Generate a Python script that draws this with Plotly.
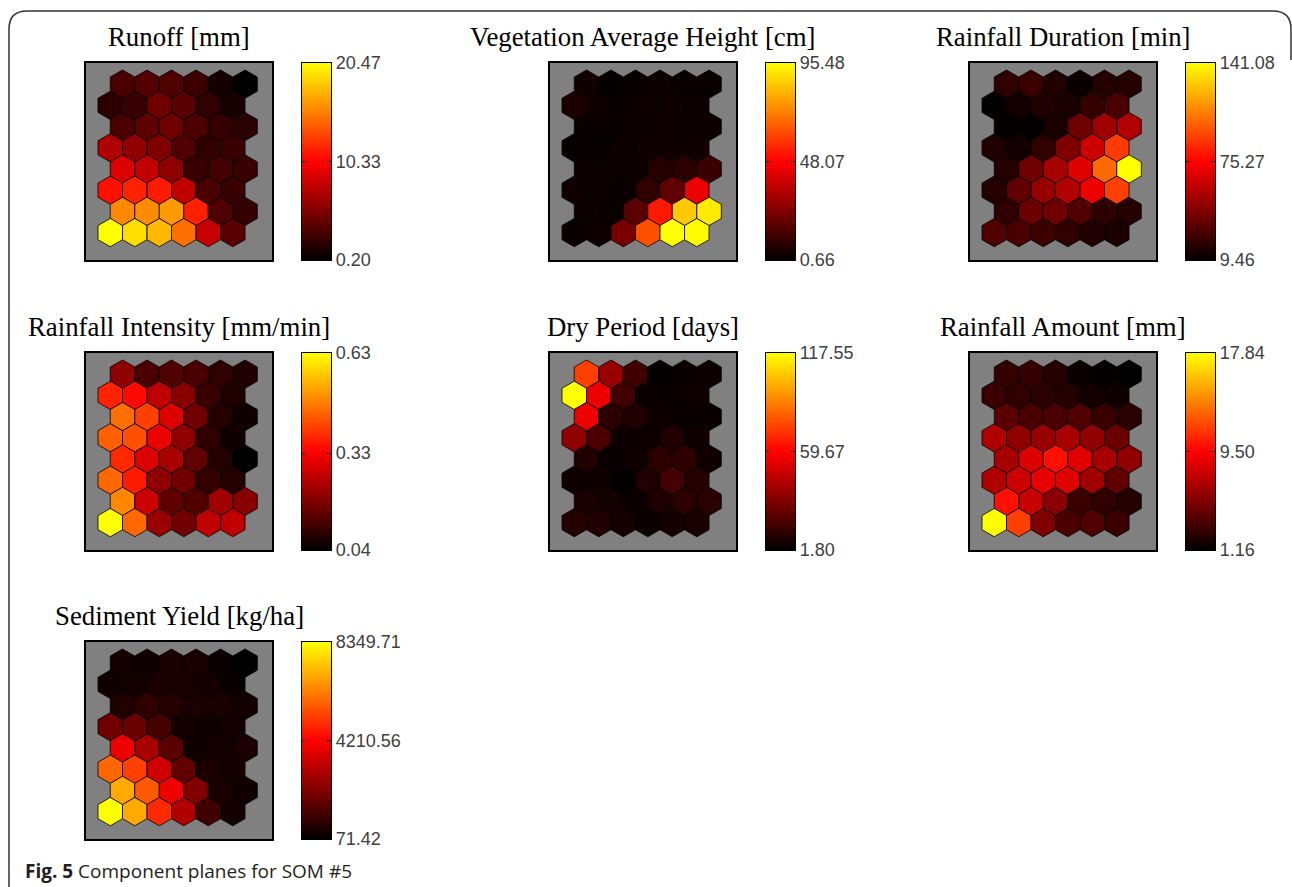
import numpy as np
import plotly.graph_objects as go
from plotly.colors import sample_colorscale

# ---------------- data ----------------
titles = ["Runoff [mm]", "Vegetation Average Height [cm]", "Rainfall Duration [min]",
          "Rainfall Intensity [mm/min]", "Dry Period [days]", "Rainfall Amount [mm]",
          "Sediment Yield [kg/ha]"]
cbar_min = [0.20, 0.66, 9.46, 0.04, 1.80, 1.16, 71.42]
cbar_mid = [10.33, 48.07, 75.27, 0.33, 59.67, 9.50, 4210.56]
cbar_max = [20.47, 95.48, 141.08, 0.63, 117.55, 17.84, 8349.71]

# 8 rows (top -> bottom) x 6 columns (left -> right); even rows are shifted right
runoff = [
    [3.14, 3.58, 3.38, 2.59, 1.00, 0.20],
    [1.95, 2.43, 4.58, 3.77, 2.11, 1.21],
    [3.14, 3.97, 4.66, 3.22, 2.35, 1.87],
    [7.20, 5.92, 5.27, 3.38, 2.11, 2.51],
    [8.98, 7.90, 5.88, 2.43, 2.83, 2.43],
    [10.94, 11.69, 11.35, 7.82, 3.14, 2.43],
    [15.75, 15.91, 16.42, 11.61, 3.34, 2.27],
    [20.47, 19.11, 17.63, 14.79, 8.10, 3.77],
]
veg_height = [
    [4.0, 1.6, 2.6, 2.9, 2.6, 2.6],
    [5.9, 3.5, 2.6, 3.5, 3.8, 3.0],
    [2.6, 2.5, 3.5, 3.5, 2.9, 2.9],
    [2.0, 2.0, 2.9, 3.8, 3.8, 4.0],
    [2.9, 2.9, 3.5, 7.6, 8.4, 11.5],
    [3.8, 2.9, 2.6, 9.6, 18.5, 44.9],
    [3.5, 2.6, 17.3, 52.8, 85.2, 91.7],
    [2.6, 3.5, 23.0, 63.0, 95.48, 94.5],
]
rain_duration = [
    [21.6, 24.5, 17.7, 12.1, 19.1, 19.1],
    [10.8, 14.9, 17.7, 16.2, 23.2, 28.6],
    [10.8, 10.8, 16.2, 37.9, 50.8, 54.9],
    [17.7, 14.9, 21.8, 42.4, 62.1, 90.3],
    [19.1, 38.4, 52.9, 67.4, 102.6, 141.08],
    [19.1, 34.2, 48.7, 54.9, 70.9, 91.7],
    [21.8, 36.8, 38.4, 30.1, 21.6, 19.1],
    [30.1, 28.6, 25.2, 21.8, 17.7, 16.2],
]
rain_intensity = [
    [0.206, 0.126, 0.133, 0.126, 0.095, 0.077],
    [0.375, 0.347, 0.262, 0.199, 0.107, 0.075],
    [0.465, 0.409, 0.296, 0.170, 0.083, 0.058],
    [0.446, 0.428, 0.315, 0.206, 0.095, 0.058],
    [0.383, 0.296, 0.235, 0.151, 0.083, 0.040],
    [0.455, 0.365, 0.206, 0.170, 0.101, 0.083],
    [0.492, 0.276, 0.151, 0.133, 0.225, 0.199],
    [0.630, 0.458, 0.217, 0.170, 0.262, 0.262],
]
dry_period = [
    [74.1, 36.5, 16.3, 3.0, 4.1, 5.3],
    [117.55, 55.9, 16.3, 4.1, 4.1, 5.3],
    [55.9, 11.3, 9.1, 5.4, 4.1, 4.1],
    [34.4, 18.6, 5.3, 5.3, 9.1, 5.4],
    [9.1, 4.1, 5.4, 11.3, 12.5, 5.4],
    [5.3, 5.4, 3.0, 9.1, 17.4, 10.3],
    [7.7, 6.5, 4.1, 8.8, 11.3, 11.3],
    [10.3, 9.1, 6.5, 4.1, 6.5, 7.7],
]
rain_amount = [
    [2.90, 2.90, 2.40, 1.50, 1.30, 1.16],
    [3.06, 2.73, 2.53, 2.38, 1.84, 1.68],
    [4.10, 3.58, 3.58, 3.78, 3.06, 2.53],
    [6.91, 5.86, 6.16, 6.66, 5.86, 4.63],
    [6.66, 8.38, 10.00, 8.50, 6.66, 5.86],
    [6.91, 7.83, 8.75, 8.50, 6.40, 4.30],
    [10.00, 7.70, 5.66, 3.06, 2.73, 2.38],
    [17.84, 11.60, 5.33, 3.58, 3.78, 3.06],
]
sediment_yield = [
    [411, 328, 494, 494, 237, 71.42],
    [328, 411, 494, 494, 411, 237],
    [593, 850, 676, 494, 494, 411],
    [1893, 1793, 1189, 411, 328, 411],
    [3937, 2803, 1528, 328, 411, 494],
    [5899, 5245, 3449, 1628, 494, 411],
    [6967, 5667, 3937, 2141, 494, 328],
    [8349.71, 6967, 4889, 2927, 1106, 411],
]
planes = [runoff, veg_height, rain_duration, rain_intensity, dry_period, rain_amount, sediment_yield]

caption_bold = "Fig. 5"
caption_text = " Component planes for SOM #5"

# ---------------- layout helpers ----------------
W, H = 1292, 887
HOT = [[0.0, "rgb(0,0,0)"], [0.5, "rgb(255,0,0)"], [1.0, "rgb(255,255,0)"]]
box_left = [86, 550, 970]
box_top = [63, 353, 642]
BOX_W, BOX_H = 186, 197
CB_OFF, CB_W = 216, 29
XR = [-0.99, 6.60]
YR = [7.18, -0.863]
R = 1 / np.sqrt(3)

def fx(px):
    return px / W

def fy(py):
    return 1 - py / H

fig = go.Figure()
layout_axes = {}
annotations = []
ang = np.deg2rad(90 + 60 * np.arange(7))
hx, hy = R * np.cos(ang), R * np.sin(ang)

for k, (title, vals) in enumerate(zip(titles, planes)):
    rr, cc = divmod(k, 3)
    L, T = box_left[cc], box_top[rr]
    ia = 2 * k + 1
    ib = 2 * k + 2
    xa = "x" if ia == 1 else f"x{ia}"
    ya = "y" if ia == 1 else f"y{ia}"
    xb, yb = f"x{ib}", f"y{ib}"
    vmin, vmax = cbar_min[k], cbar_max[k]
    arr = np.array(vals, dtype=float)
    for r in range(arr.shape[0]):
        for c in range(arr.shape[1]):
            cx = c + (0.5 if r % 2 == 0 else 0.0)
            cy = r * np.sqrt(3) / 2
            t = float(np.clip((arr[r, c] - vmin) / (vmax - vmin), 0, 1))
            col = sample_colorscale(HOT, [t])[0]
            fig.add_trace(go.Scatter(x=cx + hx, y=cy + hy, xaxis=xa, yaxis=ya,
                                     mode="lines", fill="toself", fillcolor=col,
                                     line=dict(color="black", width=0.8),
                                     hoverinfo="skip", showlegend=False))
    # colour bar as a heatmap strip
    zs = np.linspace(vmin, vmax, 256)
    fig.add_trace(go.Heatmap(z=zs.reshape(-1, 1), x=[0], y=zs, xaxis=xb, yaxis=yb,
                             colorscale=HOT, zmin=vmin, zmax=vmax, showscale=False,
                             hoverinfo="skip"))
    sfx_a = "" if ia == 1 else str(ia)
    layout_axes[f"xaxis{sfx_a}"] = dict(domain=[fx(L), fx(L + BOX_W)], range=XR, anchor=ya,
                                       showgrid=False, zeroline=False, showticklabels=False,
                                       showline=True, mirror=True, linecolor="black", linewidth=1.5)
    layout_axes[f"yaxis{sfx_a}"] = dict(domain=[fy(T + BOX_H), fy(T)], range=YR, anchor=xa,
                                       showgrid=False, zeroline=False, showticklabels=False,
                                       showline=True, mirror=True, linecolor="black", linewidth=1.5)
    layout_axes[f"xaxis{ib}"] = dict(domain=[fx(L + CB_OFF), fx(L + CB_OFF + CB_W)], range=[-0.5, 0.5],
                                     anchor=yb, showgrid=False, zeroline=False, showticklabels=False,
                                     showline=True, mirror=True, linecolor="black", linewidth=1.2)
    layout_axes[f"yaxis{ib}"] = dict(domain=[fy(T + BOX_H), fy(T)], range=[vmin, vmax], anchor=xb,
                                     side="right", showgrid=False, zeroline=False,
                                     tickvals=[vmin, cbar_mid[k], vmax],
                                     ticktext=[f"{vmin:.2f}", f"{cbar_mid[k]:.2f}", f"{vmax:.2f}"],
                                     ticks="inside", ticklen=4, tickcolor="black",
                                     tickfont=dict(family="Liberation Sans", size=18, color="#404040"),
                                     showline=True, mirror="ticks", linecolor="black", linewidth=1.2)
    annotations.append(dict(text=title, x=fx(L + BOX_W / 2), y=fy(T - 26), xref="paper", yref="paper",
                            xanchor="center", yanchor="middle", showarrow=False,
                            font=dict(family="Liberation Serif", size=26.8, color="black")))

annotations.append(dict(text=f"<b>{caption_bold}</b>{caption_text}", x=fx(23), y=fy(871),
                        xref="paper", yref="paper", xanchor="left", yanchor="middle", showarrow=False,
                        font=dict(family="Open Sans", size=19, color="#231f20")))

frame = (f"M {fx(9)},{fy(887)} L {fx(9)},{fy(29)} Q {fx(9)},{fy(11)} {fx(27)},{fy(11)} "
         f"L {fx(1273)},{fy(11)} Q {fx(1291)},{fy(11)} {fx(1291)},{fy(29)} L {fx(1291)},{fy(60)}")

fig.update_layout(width=W, height=H, margin=dict(l=0, r=0, t=0, b=0, pad=0, autoexpand=False),
                  paper_bgcolor="white", plot_bgcolor="#808080",
                  annotations=annotations, showlegend=False,
                  shapes=[dict(type="path", path=frame, xref="paper", yref="paper",
                               line=dict(color="#333333", width=1.5))],
                  **layout_axes)

fig.write_html("out.html", config={"displayModeBar": False},
               post_script="document.body.style.margin='0';document.body.style.overflow='hidden';")
